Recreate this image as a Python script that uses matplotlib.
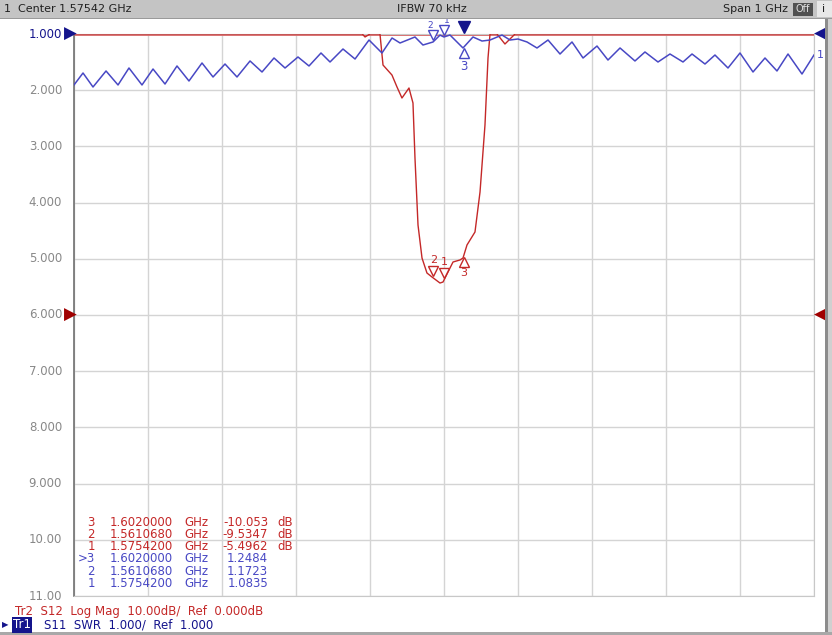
import numpy as np
import matplotlib
matplotlib.use("Agg")
import matplotlib.pyplot as plt
from matplotlib.patches import Rectangle
from matplotlib.transforms import offset_copy

# Tr1: S11 SWR
s11_freq = [1.0754, 1.0876, 1.1011, 1.1187, 1.1349, 1.1497, 1.1673, 1.1822, 1.1984, 1.2146,
            1.2308, 1.2484, 1.2633, 1.2795, 1.2957, 1.3133, 1.3295, 1.3457, 1.3606, 1.3781,
            1.3930, 1.4092, 1.4214, 1.4389, 1.4552, 1.4741, 1.4916, 1.5052, 1.5160, 1.5362,
            1.5470, 1.5606, 1.5700, 1.5754, 1.5835, 1.6011, 1.6146, 1.6268, 1.6376, 1.6538,
            1.6646, 1.6754, 1.6876, 1.7011, 1.7160, 1.7322, 1.7484, 1.7633, 1.7822, 1.7970,
            1.8133, 1.8335, 1.8470, 1.8646, 1.8808, 1.8984, 1.9106, 1.9281, 1.9416, 1.9592,
            1.9754, 1.9930, 2.0092, 2.0254, 2.0403, 2.0592, 2.0754]
s11_swr = [1.907, 1.694, 1.943, 1.658, 1.907, 1.605, 1.907, 1.623, 1.890, 1.569,
           1.836, 1.516, 1.765, 1.534, 1.765, 1.480, 1.676, 1.427, 1.605, 1.409,
           1.569, 1.338, 1.498, 1.267, 1.445, 1.107, 1.338, 1.071, 1.160, 1.053,
           1.196, 1.142, 1.020, 1.053, 1.018, 1.249, 1.053, 1.125, 1.107, 1.018,
           1.107, 1.089, 1.142, 1.249, 1.107, 1.356, 1.142, 1.427, 1.214, 1.463,
           1.249, 1.480, 1.320, 1.498, 1.356, 1.498, 1.356, 1.534, 1.374, 1.605,
           1.338, 1.676, 1.427, 1.658, 1.356, 1.712, 1.374]

# Tr2: S12 log mag (dB)
s12_freq = [1.0754, 1.4650, 1.4687, 1.4754, 1.4889, 1.4930, 1.5051, 1.5119, 1.5186, 1.5281,
            1.5335, 1.5362, 1.5403, 1.5457, 1.5524, 1.5592, 1.5700, 1.5741, 1.5808, 1.5876,
            1.5970, 1.6011, 1.6065, 1.6173, 1.6241, 1.6308, 1.6349, 1.6376, 1.6470, 1.6578,
            1.6714, 2.0754]
s12_db = [0.0, 0.0, -0.53, 0.0, 0.0, -5.52, -7.30, -9.43, -11.39, -9.61,
          -12.28, -22.06, -33.99, -39.86, -42.53, -43.24, -44.31, -44.13, -42.35, -40.57,
          -40.21, -39.86, -37.54, -35.23, -28.11, -16.19, -4.27, 0.0, 0.0, -1.78,
          0.0, 0.0]

marker_freq = [1.57542, 1.561068, 1.602]
marker_ids = ["1", "2", "3"]

y_ticks = [1, 2, 3, 4, 5, 6, 7, 8, 9, 10, 11]
y_labels = ["1.000", "2.000", "3.000", "4.000", "5.000", "6.000", "7.000",
            "8.000", "9.000", "10.00", "11.00"]

table_rows = [
    ("3", "1.6020000", "GHz", "-10.053", "dB", "red"),
    ("2", "1.5610680", "GHz", "-9.5347", "dB", "red"),
    ("1", "1.5754200", "GHz", "-5.4962", "dB", "red"),
    (">3", "1.6020000", "GHz", "1.2484", "", "blue"),
    ("2", "1.5610680", "GHz", "1.1723", "", "blue"),
    ("1", "1.5754200", "GHz", "1.0835", "", "blue"),
]

BLUE = "#4848c4"
NAVY = "#14148c"
RED = "#c42828"
DRED = "#a00000"
GRAY = "#888888"

W, H = 832, 635
fig = plt.figure(figsize=(W / 100, H / 100), dpi=100)
fig.patch.set_facecolor("white")

# plot area in pixels: x 74..814, y 34..596
ax = fig.add_axes([74 / W, (H - 596) / H, 740 / W, 562 / H])
center, span = 1.57542, 1.0
ax.set_xlim(center - span / 2, center + span / 2)
ax.set_ylim(11, 1)
ax.set_xticks(np.linspace(center - span / 2, center + span / 2, 11))
ax.set_yticks(y_ticks)
ax.grid(True, color="#d4d4d4", lw=1)
ax.tick_params(length=0, labelbottom=False, labelleft=False)
for side in ["top", "right", "bottom"]:
    ax.spines[side].set_color("#c8c8c8")
ax.spines["left"].set_color("#707070")
ax.spines["left"].set_linewidth(1.2)

# y labels
for v, lab in zip(y_ticks, y_labels):
    ax.annotate(lab, (0, v), xycoords=("axes fraction", "data"),
                xytext=(-12, 0), textcoords="offset pixels",
                ha="right", va="center", fontsize=8.5,
                color=NAVY if v == 1 else GRAY)

# traces
s12_div = 1 - np.array(s12_db) / 10.0
ax.plot(s12_freq, s12_div, color=RED, lw=1.0, zorder=3)
ax.plot(s11_freq, s11_swr, color=BLUE, lw=1.1, zorder=4)
ax.axhline(1, color="#d86060", lw=2, zorder=2.5)


def tri(f, v, dy, marker, color):
    tr = offset_copy(ax.transData, fig=fig, x=0, y=dy, units="dots")
    ax.plot([f], [v], marker=marker, ms=7, mfc="white", mec=color, mew=1,
            transform=tr, clip_on=False, zorder=6)


# markers on Tr1 (blue)
for f, mid in zip(marker_freq, marker_ids):
    v = np.interp(f, s11_freq, s11_swr)
    if mid == "3":
        tri(f, v, -6, "^", BLUE)
        ax.annotate(mid, (f, v), xytext=(0, -19), textcoords="offset pixels",
                    ha="center", va="center", color=BLUE, fontsize=8.5)
    else:
        tri(f, v, 7, "v", BLUE)
        dx = -3 if mid == "2" else 3
        ax.annotate(mid, (f, v), xytext=(dx, 16), textcoords="offset pixels",
                    ha="center", va="center", color=BLUE, fontsize=6.5, annotation_clip=False)

# active marker indicator on top edge
ind = offset_copy(ax.transData, fig=fig, x=0, y=7, units="dots")
ax.plot([marker_freq[2]], [1], marker="v", ms=9, color=NAVY, transform=ind,
        clip_on=False, zorder=7)

# markers on Tr2 (red)
for f, mid in zip(marker_freq, marker_ids):
    v = np.interp(f, s12_freq, s12_div)
    if mid == "3":
        tri(f, v, -6, "^", RED)
        ax.annotate(mid, (f, v), xytext=(0, -17), textcoords="offset pixels",
                    ha="center", va="center", color=RED, fontsize=8)
    else:
        tri(f, v, 7, "v", RED)
        ax.annotate(mid, (f, v), xytext=(0, 18), textcoords="offset pixels",
                    ha="center", va="center", color=RED, fontsize=8)

# reference position arrows on both sides
for yref, col in [(1, NAVY), (6, DRED)]:
    ax.annotate("\u25b6", (0, yref), xycoords=("axes fraction", "data"),
                xytext=(-4, 0), textcoords="offset pixels", ha="center", va="center",
                color=col, fontsize=12, annotation_clip=False)
    ax.annotate("\u25c0", (1, yref), xycoords=("axes fraction", "data"),
                xytext=(6, 0), textcoords="offset pixels", ha="center", va="center",
                color=col, fontsize=12, annotation_clip=False)
ax.annotate("1", (1, s11_swr[-1]), xycoords=("axes fraction", "data"),
            xytext=(6, 0), textcoords="offset pixels", ha="center", va="center",
            color=BLUE, fontsize=8, annotation_clip=False)

# marker table
for i, (n, fr, unit, val, du, c) in enumerate(table_rows):
    col = RED if c == "red" else BLUE
    yy = H - 522 - i * 12.3
    fig.text(95 / W, yy / H, n, ha="right", va="center", color=col, fontsize=8.5)
    fig.text(110 / W, yy / H, fr, ha="left", va="center", color=col, fontsize=8.5)
    fig.text(184 / W, yy / H, unit, ha="left", va="center", color=col, fontsize=8.5)
    fig.text(268 / W, yy / H, val, ha="right", va="center", color=col, fontsize=8.5)
    if du:
        fig.text(277 / W, yy / H, du, ha="left", va="center", color=col, fontsize=8.5)

# top status bar
fig.patches.append(Rectangle((0, (H - 18) / H), 1, 18 / H, transform=fig.transFigure,
                             facecolor="#c4c4c4", edgecolor="none", zorder=0))
fig.patches.append(Rectangle((0, (H - 19) / H), 1, 1.5 / H, transform=fig.transFigure,
                             facecolor="#9a9a9a", edgecolor="none", zorder=0))
ty = (H - 9) / H
fig.text(4 / W, ty, "1", fontsize=8, va="center", color="#202020")
fig.text(18 / W, ty, "Center 1.57542 GHz", fontsize=8, va="center", color="#202020")
fig.text(432 / W, ty, "IFBW 70 kHz", fontsize=8, va="center", ha="center", color="#202020")
fig.text(788 / W, ty, "Span 1 GHz", fontsize=8, va="center", ha="right", color="#202020")
fig.patches.append(Rectangle((793 / W, (H - 16) / H), 20 / W, 13 / H, transform=fig.transFigure,
                             facecolor="#505050", edgecolor="none", zorder=1))
fig.text(803 / W, ty, "Off", fontsize=7, va="center", ha="center", color="#e0e0e0")
fig.patches.append(Rectangle((817 / W, (H - 17) / H), 15 / W, 16 / H, transform=fig.transFigure,
                             facecolor="#e8e8e8", edgecolor="none", zorder=1))
fig.text(824 / W, ty, "i", fontsize=8, va="center", ha="center", color="#202020")

# right frame
fig.patches.append(Rectangle((825 / W, 3 / H), 3 / W, (H - 22) / H, transform=fig.transFigure,
                             facecolor="#8c8c8c", edgecolor="none", zorder=0))
fig.patches.append(Rectangle((828 / W, 3 / H), 4 / W, (H - 22) / H, transform=fig.transFigure,
                             facecolor="#d0d0d0", edgecolor="none", zorder=0))
# bottom line
fig.patches.append(Rectangle((0, 0), 1, 3 / H, transform=fig.transFigure,
                             facecolor="#a8a8a8", edgecolor="none", zorder=0))

# trace status lines
fig.text(15 / W, (H - 612) / H, "Tr2  S12  Log Mag  10.00dB/  Ref  0.000dB",
         fontsize=8.5, va="center", color=RED)
fig.text(2 / W, (H - 625) / H, "\u25b6", fontsize=6, va="center", color=NAVY)
fig.text(13 / W, (H - 625) / H, "Tr1", fontsize=8.5, va="center", color="white",
         bbox=dict(boxstyle="square,pad=0.1", facecolor=NAVY, edgecolor="none"))
fig.text(44 / W, (H - 625) / H, "S11  SWR  1.000/  Ref  1.000",
         fontsize=8.5, va="center", color=NAVY)

fig.savefig("out.png", dpi=100)
